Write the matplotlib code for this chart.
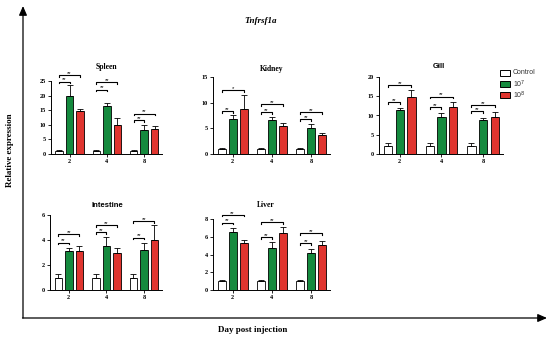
import matplotlib
matplotlib.use("Agg")
import matplotlib.pyplot as plt
import numpy as np

W, H = 550, 342

days = ['2', '4', '8']
group_labels = ['Control', '10$^7$', '10$^8$']
colors = ['white', '#158a3e', '#e0352f']

# means per group (rows: Control, 10^7, 10^8; columns: day 2, 4, 8)
spleen_mean = [[1.0, 1.0, 1.0], [19.8, 16.3, 8.3], [14.8, 9.8, 8.5]]
spleen_err = [[0.2, 0.2, 0.2], [3.7, 1.2, 1.7], [0.7, 2.5, 1.0]]
spleen_br = [[24.8, 27.0], [22.0, 24.5], [11.5, 13.8]]

kidney_mean = [[1.0, 1.0, 1.0], [6.9, 6.6, 5.1], [8.8, 5.4, 3.7]]
kidney_err = [[0.1, 0.1, 0.1], [0.7, 0.6, 0.8], [2.7, 0.6, 0.4]]
kidney_br = [[8.4, 12.5], [8.2, 9.7], [6.8, 8.2]]

gill_mean = [[2.0, 2.0, 2.0], [11.3, 9.6, 8.8], [14.7, 12.2, 9.5]]
gill_err = [[0.8, 0.8, 0.8], [0.7, 1.1, 0.6], [1.8, 1.2, 1.5]]
gill_br = [[13.4, 17.9], [12.1, 14.9], [11.2, 12.7]]

intestine_mean = [[1.0, 1.0, 1.0], [3.1, 3.5, 3.2], [3.1, 3.0, 4.0]]
intestine_err = [[0.3, 0.3, 0.3], [0.3, 0.75, 0.6], [0.4, 0.35, 1.2]]
intestine_br = [[3.8, 4.45], [4.64, 5.2], [4.2, 5.5]]

liver_mean = [[1.0, 1.0, 1.0], [6.6, 4.8, 4.2], [5.3, 6.5, 5.1]]
liver_err = [[0.1, 0.1, 0.1], [0.4, 0.6, 0.4], [0.4, 0.6, 0.5]]
liver_br = [[7.6, 8.5], [6.0, 7.66], [5.3, 6.4]]

kidney_stars = [['**', '*'], ['**', '**'], ['**', '**']]
default_stars = [['**', '**'], ['**', '**'], ['**', '**']]

panels = [
    ('Spleen', spleen_mean, spleen_err, spleen_br, default_stars, 25, [0, 5, 10, 15, 20, 25], (51, 162, 154, 81), 'serif', (106, 67)),
    ('Kidney', kidney_mean, kidney_err, kidney_br, kidney_stars, 15, [0, 5, 10, 15], (213, 330, 154, 77), 'serif', (272, 69)),
    ('Gill', gill_mean, gill_err, gill_br, default_stars, 20, [0, 5, 10, 15, 20], (379, 503, 154, 77), 'sans', (439, 67)),
    ('Intestine', intestine_mean, intestine_err, intestine_br, default_stars, 6, [0, 2, 4, 6], (50, 162, 290, 215), 'sans', (107, 205)),
    ('Liver', liver_mean, liver_err, liver_br, default_stars, 8, [0, 2, 4, 6, 8], (213, 330, 290, 219.3), 'serif', (266, 205)),
]

SERIF = 'Liberation Serif'
SANS = 'Liberation Sans'

fig = plt.figure(figsize=(W / 100, H / 100), dpi=100)

def fx(x):
    return x / W

def fy(y):
    return 1 - y / H

offsets = [-0.28, 0.0, 0.28]
bw = 0.2
xg = np.arange(len(days))

for name, mean, err, br, stars, ymax, yticks, (l, r, b, t), tfont, (tx, ty) in panels:
    ax = fig.add_axes([fx(l), fy(b), (r - l) / W, (b - t) / H])
    for gi in range(3):
        ax.bar(xg + offsets[gi], mean[gi], bw, color=colors[gi], edgecolor='black',
               linewidth=0.6, zorder=2)
        ax.errorbar(xg + offsets[gi], mean[gi],
                    yerr=[np.zeros(3), err[gi]], fmt='none', ecolor='black',
                    elinewidth=0.6, capsize=2.0, capthick=0.6, zorder=3)
    ax.set_xlim(-0.5, 2.48)
    ax.set_ylim(0, ymax)
    ax.set_yticks(yticks)
    ax.set_xticks(xg)
    ax.set_xticklabels(days)
    ax.tick_params(axis='both', labelsize=4.5, length=2, width=0.6, pad=1.5)
    for lab in ax.get_xticklabels() + ax.get_yticklabels():
        lab.set_fontfamily(SERIF)
        lab.set_fontweight('bold')
    for s in ['top', 'right']:
        ax.spines[s].set_visible(False)
    for s in ['left', 'bottom']:
        ax.spines[s].set_linewidth(0.7)
    tick_h = ymax * 0.022
    for di in range(3):
        for k, gi in enumerate([1, 2]):
            x0 = di + offsets[0]
            x1 = di + offsets[gi]
            yb = br[di][k]
            ax.plot([x0, x0, x1, x1], [yb - tick_h, yb, yb, yb - tick_h],
                    color='black', lw=0.8, clip_on=False, zorder=4)
            ax.text((x0 + x1) / 2, yb - ymax * 0.01, stars[di][k], ha='center', va='bottom',
                    fontsize=4.2, clip_on=False, fontfamily=SANS)
    fam = SERIF if tfont == 'serif' else SANS
    fig.text(fx(tx), fy(ty), name, ha='center', va='center', fontsize=5.5,
             fontweight='bold', fontfamily=fam)

# legend
leg_y = [73, 84, 95]
for gi in range(3):
    ax_l = fig.add_axes([fx(500), fy(leg_y[gi] + 3), 10 / W, 6 / H])
    ax_l.add_patch(plt.Rectangle((0, 0), 1, 1, facecolor=colors[gi], edgecolor='black',
                                 linewidth=0.7, transform=ax_l.transAxes, clip_on=False))
    ax_l.axis('off')
    fig.text(fx(513), fy(leg_y[gi]), group_labels[gi], ha='left', va='center',
             fontsize=5, fontfamily=SANS, color='#333333')

# big arrows
fig.add_artist(matplotlib.patches.FancyArrowPatch(
    (fx(23), fy(318)), (fx(23), fy(6)), transform=fig.transFigure,
    arrowstyle='-|>,head_length=5.5,head_width=2.4', color='black', lw=0.9,
    shrinkA=0, shrinkB=0))
fig.add_artist(matplotlib.patches.FancyArrowPatch(
    (fx(22.5), fy(318)), (fx(547), fy(318)), transform=fig.transFigure,
    arrowstyle='-|>,head_length=5.5,head_width=2.4', color='black', lw=0.9,
    shrinkA=0, shrinkB=0))

fig.text(fx(261), fy(21), 'Tnfrsf1a', ha='center', va='center', fontsize=6.5,
         fontstyle='italic', fontweight='bold', fontfamily=SERIF)
fig.text(fx(253), fy(330), 'Day post injection', ha='center', va='center', fontsize=6.5,
         fontweight='bold', fontfamily=SERIF)
fig.text(fx(10), fy(150), 'Relative expression', ha='center', va='center', fontsize=6.5,
         fontweight='bold', fontfamily=SERIF, rotation=90)

fig.savefig('out.png', dpi=100)
